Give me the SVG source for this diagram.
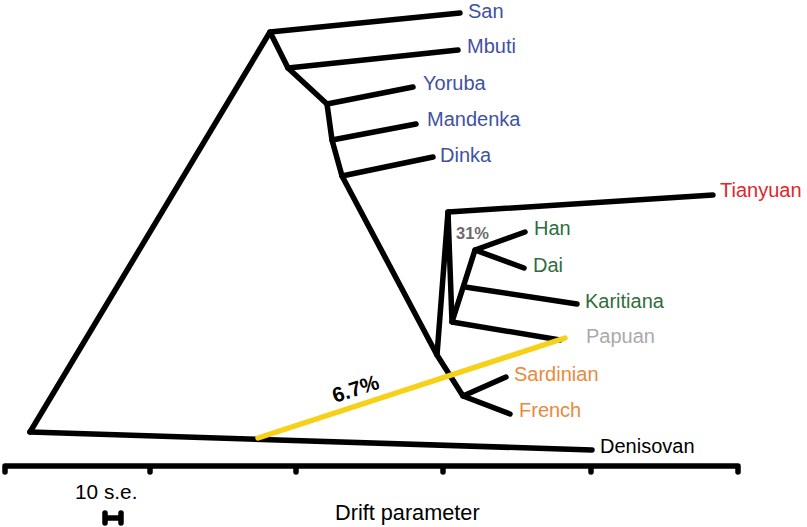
<svg xmlns="http://www.w3.org/2000/svg" width="807" height="527" viewBox="0 0 807 527">
<style>
.e{fill:none;stroke:#000;stroke-width:5.5;stroke-linecap:round;stroke-linejoin:round}
.mix{fill:none;stroke:#f7d117;stroke-width:5.5;stroke-linecap:round}
text{font-family:"Liberation Sans",Arial,sans-serif;font-size:20px}
.af{fill:#3f52a2}.as{fill:#2f6d3d}.eu{fill:#ea8a3c}.ti{fill:#e1262b}.pa{fill:#aaaaaa}.de{fill:#000}
.b{font-weight:bold}
</style>
<rect width="807" height="527" fill="#fff"/>
<g id="connectors">
<path class="e" d="M30,432 L270,32 L460,13"/>
<path class="e" d="M270,32 L288,68 L458,50"/>
<path class="e" d="M288,68 L327,104 L413,87"/>
<path class="e" d="M327,104 L332,140 L416,124"/>
<path class="e" d="M332,140 L342,176 L433,157"/>
<path class="e" d="M342,176 L437,355 L463,396 L506,377"/>
<path class="e" d="M463,396 L510,414"/>
<path class="e" d="M437,355 L448,212 L713,195"/>
<path class="e" d="M448,212 L452,322 L560,340"/>
<path class="e" d="M452,322 L475,250 L525,232"/>
<path class="e" d="M475,250 L524,268"/>
<path class="e" d="M465,287 L577,304"/>
<path class="e" d="M30,432 L592,450"/>
<path class="mix" d="M258,438 L565,338"/>
</g>
<g id="axis">
<path class="e" d="M5,466 H738 M5,466 V472 M150,466 V472 M296,466 V472 M443,466 V472 M591,466 V472 M738,466 V472" stroke-width="5"/>
<path class="e" d="M105,513 V523 M121,513 V523 M105,518 H121" stroke-width="4.5"/>
<text x="75" y="499" class="de" style="font-size:20.8px">10 s.e.</text>
<text x="335" y="520" class="de" style="font-size:21.7px">Drift parameter</text>
</g>
<g id="San"><text x="468" y="18" class="af">San</text></g>
<g id="Mbuti"><text x="467" y="53" class="af">Mbuti</text></g>
<g id="Yoruba"><text x="423" y="90" class="af">Yoruba</text></g>
<g id="Mandenka"><text x="427" y="126" class="af">Mandenka</text></g>
<g id="Dinka"><text x="440" y="162" class="af">Dinka</text></g>
<g id="Tianyuan"><text x="720" y="197" class="ti">Tianyuan</text></g>
<g id="Han"><text x="534" y="235" class="as">Han</text></g>
<g id="Dai"><text x="533" y="272" class="as">Dai</text></g>
<g id="Karitiana"><text x="585" y="308" class="as">Karitiana</text></g>
<g id="Papuan"><text x="586" y="343" class="pa">Papuan</text></g>
<g id="Sardinian"><text x="514" y="381" class="eu">Sardinian</text></g>
<g id="French"><text x="519" y="417" class="eu">French</text></g>
<g id="Denisovan"><text x="600" y="453" class="de">Denisovan</text></g>
<g id="labels">
<text x="456" y="239" class="b" style="font-size:16.5px;fill:#6b6b6b">31%</text>
<text x="335" y="403" class="b" style="font-size:21px" transform="rotate(-18 335 403)">6.7%</text>
</g>
</svg>
